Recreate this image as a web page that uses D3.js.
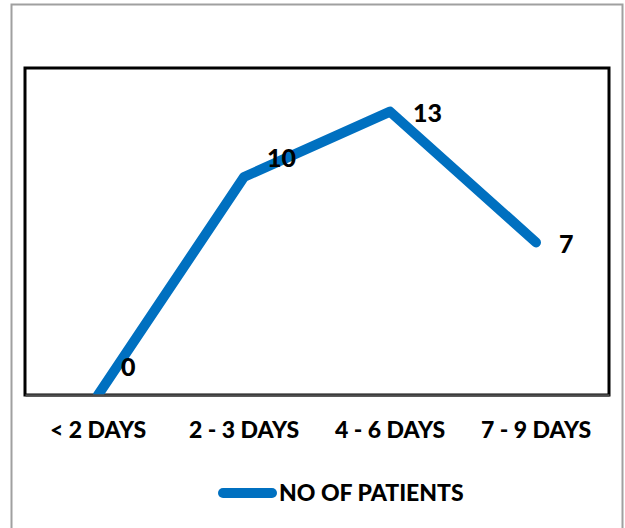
<!DOCTYPE html>
<html>
<head>
<meta charset="utf-8">
<script src="https://cdn.jsdelivr.net/npm/d3@7"></script>
<style>
  html, body { margin: 0; padding: 0; background: #fff; }
  svg { display: block; }
  text { font-family: Lato, "Open Sans", sans-serif; font-weight: 900; fill: #000; }
</style>
</head>
<body>
<div id="chart"></div>
<script>
// Length of stay categories and patient counts
const categories = ["< 2 DAYS", "2 - 3 DAYS", "4 - 6 DAYS", "7 - 9 DAYS"];
const patients = [0, 10, 13, 7];
const seriesName = "NO OF PATIENTS";
const yMax = 15;

const W = 625, H = 528;
const plot = { left: 25, top: 68, right: 609, bottom: 395 };

const svg = d3.select("#chart").append("svg").attr("width", W).attr("height", H);

// outer chart frame (open at the bottom edge)
svg.append("path")
  .attr("d", `M11.5,${H + 2} V4.5 H622.5 V${H + 2}`)
  .attr("fill", "none").attr("stroke", "#a0a0a0").attr("stroke-width", 2);

const x = d3.scaleBand().domain(categories).range([plot.left, plot.right]);
const y = d3.scaleLinear().domain([0, yMax]).range([plot.bottom, plot.top]);

// plot area border
svg.append("rect")
  .attr("x", plot.left).attr("y", plot.top)
  .attr("width", plot.right - plot.left).attr("height", plot.bottom - plot.top)
  .attr("fill", "none").attr("stroke", "#000").attr("stroke-width", 3);

svg.append("clipPath").attr("id", "plotClip")
  .append("rect")
  .attr("x", plot.left).attr("y", plot.top)
  .attr("width", plot.right - plot.left).attr("height", plot.bottom - plot.top);

const pts = categories.map((c, i) => ({ c, v: patients[i] }));
const cx = d => x(d.c) + x.bandwidth() / 2;

const line = d3.line().x(cx).y(d => y(d.v));
svg.append("path")
  .datum(pts)
  .attr("clip-path", "url(#plotClip)")
  .attr("d", line)
  .attr("fill", "none")
  .attr("stroke", "#0070C0")
  .attr("stroke-width", 10)
  .attr("stroke-linejoin", "round")
  .attr("stroke-linecap", "round");

// category axis along the bottom of the plot
const xAxis = d3.axisBottom(x).tickSize(0).tickPadding(0);
const gx = svg.append("g").attr("transform", `translate(0,${plot.bottom})`).call(xAxis);
gx.select(".domain").attr("stroke", "#4d4d4d").attr("stroke-width", 2.5);
gx.selectAll(".tick text")
  .attr("dy", null).attr("y", 43)
  .style("font-size", "23px")
  .style("font-family", "Lato, sans-serif")
  .style("font-weight", "900")
  .attr("fill", "#000");

// value labels placed to the right of each point
const labelDy = [-28, -19, 1, 2];
svg.selectAll(".val").data(pts).enter().append("text")
  .attr("class", "val")
  .attr("x", d => cx(d) + 23)
  .attr("y", (d, i) => y(d.v) + labelDy[i] + 9)
  .style("font-size", "25px")
  .text(d => d.v);

// legend
const lg = svg.append("g");
lg.append("line")
  .attr("x1", 223).attr("x2", 272).attr("y1", 493).attr("y2", 493)
  .attr("stroke", "#0070C0").attr("stroke-width", 10).attr("stroke-linecap", "round");
lg.append("text").attr("x", 279).attr("y", 501)
  .style("font-size", "23px")
  .text(seriesName);
</script>
</body>
</html>
